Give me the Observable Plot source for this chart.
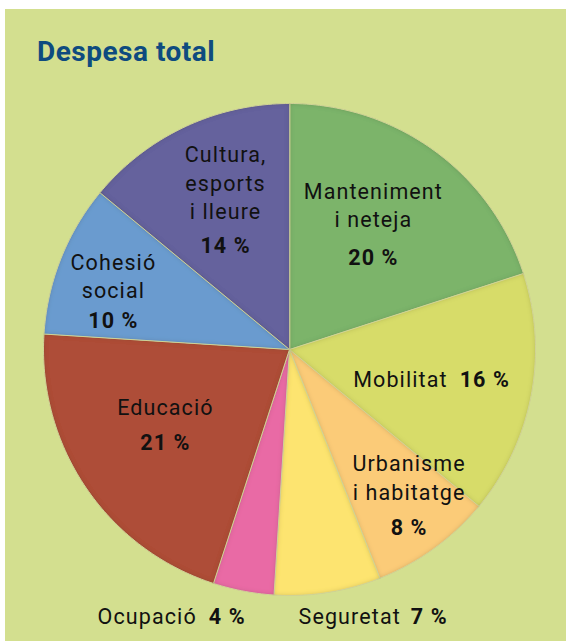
<!DOCTYPE html>
<html>
<head>
<meta charset="utf-8">
<script src="https://cdn.jsdelivr.net/npm/d3@7"></script>
<script src="https://cdn.jsdelivr.net/npm/@observablehq/plot@0.6"></script>
<style>
  html, body { margin: 0; padding: 0; background: #fff; }
  #wrap { position: relative; width: 566px; height: 641px; overflow: hidden; }
  #panel { position: absolute; left: 5px; top: 9px; right: 0; bottom: 0; background: #d3df8f; }
  #title { position: absolute; left: 37px; top: 36px; font-family: Roboto, sans-serif; font-weight: 700; font-size: 28px; line-height: 32px; color: #0e4b7f; letter-spacing: 0.5px; }
  #chart { position: absolute; left: 0; top: 0; }
  #chart text { letter-spacing: 1.1px; }
</style>
</head>
<body>
<div id="wrap">
  <div id="panel"></div>
  <div id="title">Despesa total</div>
  <div id="chart"></div>
</div>
<script>
// ---- data ----
const categories = ["Manteniment i neteja", "Mobilitat", "Urbanisme i habitatge", "Seguretat", "Ocupació", "Educació", "Cohesió social", "Cultura, esports i lleure"];
const shares = [20, 16, 8, 7, 4, 21, 10, 14];
const nameLines = [["Manteniment", "i neteja"], ["Mobilitat"], ["Urbanisme", "i habitatge"], ["Seguretat"], ["Ocupació"], ["Educació"], ["Cohesió", "social"], ["Cultura,", "esports", "i lleure"]];
const sliceColors = ["#7bb46b", "#d7dc69", "#fbcb78", "#fde46f", "#e96ba5", "#ae4d39", "#6a9bcf", "#65629d"];

// ---- layout (styling, not data) ----
const W = 566, H = 641, CX = 289, CY = 349, R = 246; // pixels
const K = R; // px per data unit
const layout = [
  {rho: 0.58, mode: "stack", dx: 0, dy: -42, step: 28, pdy: 24},
  {rho: 0.58, mode: "inline", dy: 4, ndx: 18, pdx: 30},
  {rho: 0.82, mode: "stack", dx: 1, dy: -49, step: 29, pdy: 15},
  {rho: 1.10, mode: "inline", dy: 0, ndx: 69, pdx: 79},
  {rho: 1.10, mode: "inline", dy: 2, ndx: -42, pdx: -30},
  {rho: 0.60, mode: "stack", dx: -2, dy: -24, step: 28, pdy: 11},
  {rho: 0.77, mode: "stack", dx: 0, dy: -17, step: 28, pdy: 41},
  {rho: 0.62, mode: "stack", dx: 1, dy: -56, step: 28.5, pdy: 35}
];

const total = d3.sum(shares);
let acc = 0;
const slices = categories.map((name, i) => {
  const a0 = acc / total * 2 * Math.PI;
  acc += shares[i];
  const a1 = acc / total * 2 * Math.PI;
  return {name, value: shares[i], a0, a1, mid: (a0 + a1) / 2, i};
});

const verts = [];
for (const s of slices) {
  verts.push({name: s.name, x: 0, y: 0});
  const n = Math.max(2, Math.ceil((s.a1 - s.a0) / (Math.PI / 180)));
  for (let k = 0; k <= n; k++) {
    const a = s.a0 + (s.a1 - s.a0) * k / n;
    verts.push({name: s.name, x: Math.sin(a), y: Math.cos(a)});
  }
}

const nameTexts = [], pctTexts = [];
for (const s of slices) {
  const L = layout[s.i];
  const cx = L.rho * Math.sin(s.mid), cy = L.rho * Math.cos(s.mid);
  const pct = `${s.value} %`;
  if (L.mode === "stack") {
    nameLines[s.i].forEach((t, k) => nameTexts.push({t, x: cx + L.dx / K, y: cy - (L.dy + k * L.step) / K, anchor: "middle"}));
    pctTexts.push({t: pct, x: cx + L.dx / K, y: cy - L.pdy / K, anchor: "middle"});
  } else {
    nameTexts.push({t: nameLines[s.i][0], x: cx + L.ndx / K, y: cy - L.dy / K, anchor: "end"});
    pctTexts.push({t: pct, x: cx + L.pdx / K, y: cy - L.dy / K, anchor: "start"});
  }
}

const font = "Roboto, sans-serif";
const FS = 21.5;
const chart = Plot.plot({
  width: W, height: H,
  margin: 0,
  style: {background: "transparent", overflow: "visible"},
  x: {domain: [-CX / K, (W - CX) / K], axis: null},
  y: {domain: [-(H - CY) / K, CY / K], axis: null},
  color: {domain: categories, range: sliceColors},
  marks: [
    Plot.line(verts, {x: "x", y: "y", z: "name", fill: "name", stroke: "#e3e6a6", strokeWidth: 1, curve: "linear-closed"}),
    Plot.text(nameTexts.filter(d => d.anchor === "middle"), {x: "x", y: "y", text: "t", textAnchor: "middle", fontSize: FS, fontFamily: font, fill: "#111"}),
    Plot.text(nameTexts.filter(d => d.anchor === "end"), {x: "x", y: "y", text: "t", textAnchor: "end", fontSize: FS, fontFamily: font, fill: "#111"}),
    Plot.text(pctTexts.filter(d => d.anchor === "middle"), {x: "x", y: "y", text: "t", textAnchor: "middle", fontSize: FS, fontWeight: 700, fontFamily: font, fill: "#111"}),
    Plot.text(pctTexts.filter(d => d.anchor === "start"), {x: "x", y: "y", text: "t", textAnchor: "start", fontSize: FS, fontWeight: 700, fontFamily: font, fill: "#111"})
  ]
});

// inner-shadow bevel on slices
const defs = document.createElementNS("http://www.w3.org/2000/svg", "defs");
defs.innerHTML = `<filter id="inset" x="-20%" y="-20%" width="140%" height="140%">
  <feComponentTransfer in="SourceAlpha" result="inv"><feFuncA type="table" tableValues="1 0"/></feComponentTransfer>
  <feGaussianBlur in="inv" stdDeviation="2.5" result="blur"/>
  <feFlood flood-color="#3a3a10" flood-opacity="0.45" result="col"/>
  <feComposite in="col" in2="blur" operator="in" result="shadow"/>
  <feComposite in="shadow" in2="SourceAlpha" operator="in" result="clip"/>
  <feMerge><feMergeNode in="SourceGraphic"/><feMergeNode in="clip"/></feMerge>
</filter>`;
chart.insertBefore(defs, chart.firstChild);
chart.querySelectorAll("g[aria-label='line'] path").forEach(p => p.setAttribute("filter", "url(#inset)"));
document.getElementById("chart").appendChild(chart);
</script>
</body>
</html>
